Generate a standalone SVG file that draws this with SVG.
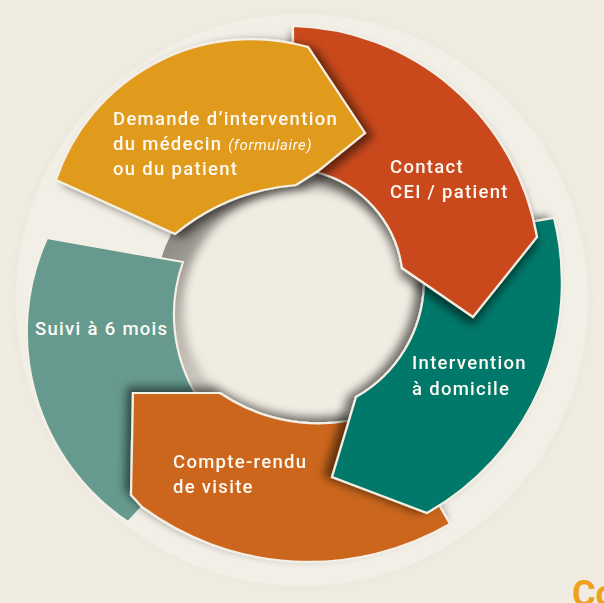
<svg xmlns="http://www.w3.org/2000/svg" width="604" height="603" viewBox="0 0 604 603">
<defs>
<style>
.seg{stroke:#f4f0e6;stroke-width:2.2;stroke-linejoin:miter}
.lbl{font-family:Roboto,"DejaVu Sans",sans-serif;font-weight:500;font-size:18.5px;fill:#fdfaf3;letter-spacing:1.3px}
.it{font-style:italic;font-weight:400;font-size:15px;letter-spacing:0.6px}
</style>
<linearGradient id="hg" x1="0.1" y1="0.1" x2="0.8" y2="0.8">
<stop offset="0" stop-color="#7f7b75"/>
<stop offset="0.4" stop-color="#bdb8af"/>
<stop offset="1" stop-color="#efebe2"/>
</linearGradient>
<filter id="soft" x="-20%" y="-20%" width="140%" height="140%"><feGaussianBlur stdDeviation="5"/></filter>
<filter id="plate" x="-10%" y="-10%" width="120%" height="120%"><feGaussianBlur stdDeviation="4"/></filter>
<filter id="shY" x="-20%" y="-20%" width="140%" height="140%"><feGaussianBlur in="SourceAlpha" stdDeviation="5"/><feOffset dx="7" dy="3"/><feComponentTransfer><feFuncA type="linear" slope="0.55"/></feComponentTransfer><feMerge><feMergeNode/><feMergeNode in="SourceGraphic"/></feMerge></filter>
<filter id="shR" x="-20%" y="-20%" width="140%" height="140%"><feGaussianBlur in="SourceAlpha" stdDeviation="5"/><feOffset dx="-1" dy="7"/><feComponentTransfer><feFuncA type="linear" slope="0.55"/></feComponentTransfer><feMerge><feMergeNode/><feMergeNode in="SourceGraphic"/></feMerge></filter>
<filter id="shT" x="-20%" y="-20%" width="140%" height="140%"><feGaussianBlur in="SourceAlpha" stdDeviation="5"/><feOffset dx="-7" dy="-1"/><feComponentTransfer><feFuncA type="linear" slope="0.55"/></feComponentTransfer><feMerge><feMergeNode/><feMergeNode in="SourceGraphic"/></feMerge></filter>
<filter id="shO" x="-20%" y="-20%" width="140%" height="140%"><feGaussianBlur in="SourceAlpha" stdDeviation="5"/><feOffset dx="-5" dy="-5"/><feComponentTransfer><feFuncA type="linear" slope="0.55"/></feComponentTransfer><feMerge><feMergeNode/><feMergeNode in="SourceGraphic"/></feMerge></filter>
</defs>
<rect width="604" height="603" fill="#f0ece2"/>
<g id="plate">
<circle cx="302" cy="300" r="287" fill="none" stroke="#e2ddd1" stroke-width="2" filter="url(#plate)"/>
<circle cx="302" cy="300" r="286" fill="#f2efe7"/>
</g>
<g id="hole">
<circle cx="290" cy="296" r="134" fill="url(#hg)"/>
<circle cx="302" cy="308" r="119" fill="#f0ece2" filter="url(#soft)"/>
</g>
<g id="suivi">
<path class="seg" fill="#669a8e" d="M 47,238 L 183,262 A 157 157 0 0 0 198,398 L 150,500 L 142,507 L 128,522 A 229 229 0 0 1 47,238 Z"/>
<text class="lbl" x="35" y="335">Suivi à 6 mois</text>
</g>
<g id="compte-rendu" filter="url(#shO)">
<path class="seg" fill="#cb661f" d="M 133,393 L 220,393 A 176 176 0 0 0 348,421 L 380,440 L 438,503 L 450,524 A 281 281 0 0 1 142,507 L 131,495 Z"/>
<text class="lbl" x="173" y="468">Compte-rendu</text>
<text class="lbl" x="173" y="493">de visite</text>
</g>
<g id="intervention" filter="url(#shT)">
<path class="seg" fill="#04786b" d="M 530,222 L 554,218 A 265 265 0 0 1 427,513 L 332,477 L 356,397 A 134 134 0 0 0 424,284 L 470,240 Z"/>
<text class="lbl" x="412" y="369">Intervention</text>
<text class="lbl" x="412" y="395">à domicile</text>
</g>
<g id="contact" filter="url(#shR)">
<path class="seg" fill="#c9491f" d="M 293,26 A 254 254 0 0 1 537,237 L 473,317 L 402,268 A 116 116 0 0 0 316,172 L 335,130 L 293,60 Z"/>
<text class="lbl" x="390" y="173">Contact</text>
<text class="lbl" x="390" y="198">CEI / patient</text>
</g>
<g id="demande" filter="url(#shY)">
<path class="seg" fill="#e19b1e" d="M 56,180 A 206 206 0 0 1 308,47 L 365,133 L 318,171 L 296,185 A 219 219 0 0 0 175,234 Z"/>
<text class="lbl" x="113" y="125">Demande d’intervention</text>
<text class="lbl" x="113" y="150">du médecin <tspan class="it">(formulaire)</tspan></text>
<text class="lbl" x="113" y="175">ou du patient</text>
</g>
<text x="572" y="606" font-family="Roboto,'DejaVu Sans',sans-serif" font-weight="700" font-size="36" fill="#eea11f">Co</text>
</svg>
